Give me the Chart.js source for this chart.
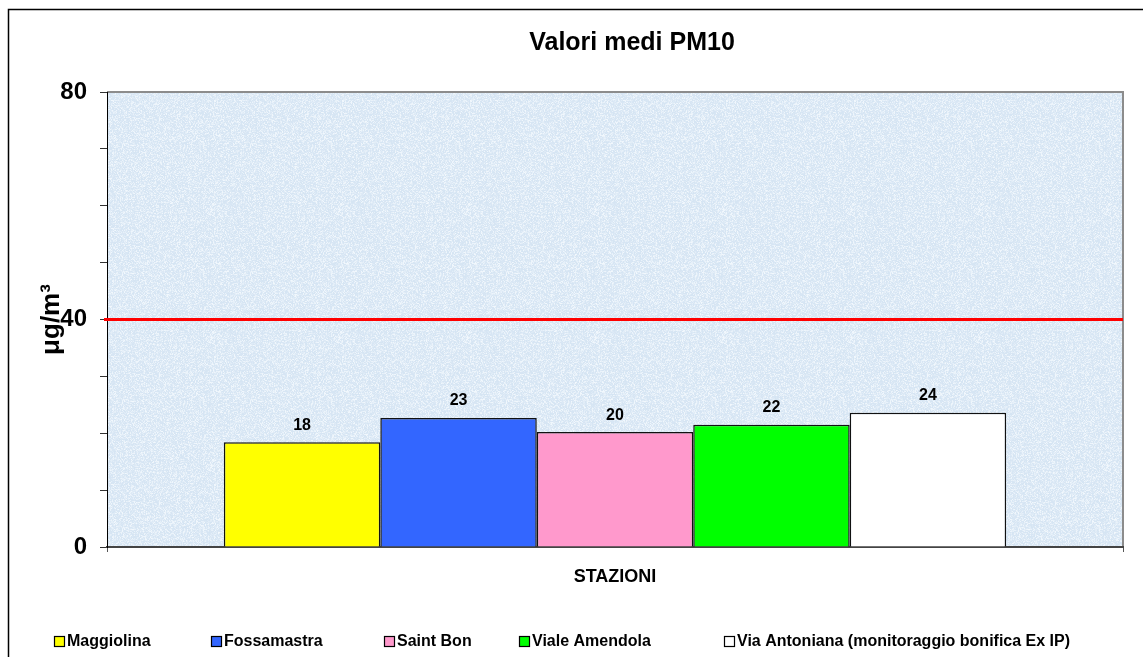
<!DOCTYPE html>
<html>
<head>
<meta charset="utf-8">
<script src="https://cdn.jsdelivr.net/npm/chart.js@4.4.0/dist/chart.umd.min.js"></script>
<style>
  html, body { margin: 0; padding: 0; background: #ffffff; }
  #wrap { position: relative; width: 1143px; height: 657px; overflow: hidden; }
  canvas { display: block; }
</style>
</head>
<body>
<div id="wrap"><canvas id="c" width="1143" height="657"></canvas></div>
<script>
// ---- data ----
const categories = ['STAZIONI'];
const stations = ['Maggiolina', 'Fossamastra', 'Saint Bon', 'Viale Amendola', 'Via Antoniana (monitoraggio bonifica Ex IP)'];
const pm10Values = [18.4, 22.7, 20.2, 21.5, 23.6];
const limitValue = [40];
const yTickLabels = ['0', '40', '80'];

// ---- styles ----
const barColors = ['#ffff00', '#3366ff', '#ff99cc', '#00ff00', '#ffffff'];
const FONT = '"Liberation Sans", Arial, Helvetica, sans-serif';

const datasets = stations.map((name, i) => ({
  label: name,
  data: [pm10Values[i]],
  backgroundColor: barColors[i],
  borderColor: '#111111',
  borderWidth: 1.5,
  borderSkipped: 'bottom',
  categoryPercentage: 0.77,
  barPercentage: 1.0
}));

// subtle deterministic speckle texture for the plot background
function makeTexture() {
  const size = 128;
  const c = document.createElement('canvas');
  c.width = size; c.height = size;
  const g = c.getContext('2d');
  const img = g.createImageData(size, size);
  for (let yy = 0; yy < size; yy++) {
    for (let xx = 0; xx < size; xx++) {
      const h = Math.sin(xx * 12.9898 + yy * 78.233) * 43758.5453;
      const n = h - Math.floor(h);
      const t = 0.35 + 0.65 * n * n;
      const k = (xx + yy * size) * 4;
      img.data[k]     = Math.round(198 + t * 44);
      img.data[k + 1] = Math.round(218 + t * 30);
      img.data[k + 2] = Math.round(238 + t * 15);
      img.data[k + 3] = 255;
    }
  }
  g.putImageData(img, 0, 0);
  return c;
}
const textureCanvas = makeTexture();

const decorPlugin = {
  id: 'decor',
  beforeDraw(chart) {
    const {ctx, chartArea: a} = chart;
    ctx.save();
    // outer frame
    ctx.strokeStyle = '#000000';
    ctx.lineWidth = 1.5;
    ctx.beginPath();
    ctx.moveTo(8.5, 700);
    ctx.lineTo(8.5, 9.5);
    ctx.lineTo(1200, 9.5);
    ctx.stroke();
    // plot background
    ctx.fillStyle = ctx.createPattern(textureCanvas, 'repeat');
    ctx.fillRect(a.left, a.top, a.right - a.left, a.bottom - a.top);
    // plot border top & right
    ctx.strokeStyle = '#8c8c8c';
    ctx.lineWidth = 2;
    ctx.beginPath();
    ctx.moveTo(a.left, a.top);
    ctx.lineTo(a.right, a.top);
    ctx.lineTo(a.right, a.bottom);
    ctx.stroke();
    ctx.restore();
  },
  afterDatasetsDraw(chart) {
    const {ctx, chartArea: a, scales} = chart;
    ctx.save();
    // limit line
    const yL = scales.y.getPixelForValue(limitValue[0]);
    ctx.strokeStyle = '#ff0000';
    ctx.lineWidth = 3;
    ctx.beginPath();
    ctx.moveTo(a.left - 3, yL);
    ctx.lineTo(a.right, yL);
    ctx.stroke();
    // value labels
    ctx.fillStyle = '#000000';
    ctx.font = 'bold 16px ' + FONT;
    ctx.textAlign = 'center';
    ctx.textBaseline = 'middle';
    chart.data.datasets.forEach((ds, i) => {
      const meta = chart.getDatasetMeta(i);
      meta.data.forEach((bar, j) => {
        ctx.fillText(String(Math.round(ds.data[j])), bar.x, bar.y - 17);
      });
    });
    ctx.restore();
  },
  afterDraw(chart) {
    const {ctx} = chart;
    const o = chart.options.plugins.decor;
    ctx.save();
    // title
    ctx.fillStyle = '#000000';
    ctx.font = 'bold 25px ' + FONT;
    ctx.textAlign = 'center';
    ctx.textBaseline = 'middle';
    ctx.fillText(o.title, o.titleX, o.titleY);
    // legend
    ctx.font = 'bold 16px ' + FONT;
    ctx.textAlign = 'left';
    chart.data.datasets.forEach((ds, i) => {
      const x = o.legendX[i];
      const y = o.legendY;
      ctx.fillStyle = ds.backgroundColor;
      ctx.fillRect(x, y - 5, 11, 11);
      ctx.strokeStyle = '#000000';
      ctx.lineWidth = 1.2;
      ctx.strokeRect(x + 0.5, y - 4.5, 10, 10);
      ctx.fillStyle = '#000000';
      ctx.fillText(ds.label, x + 13, y + 1);
    });
    ctx.restore();
  }
};

new Chart(document.getElementById('c'), {
  type: 'bar',
  data: { labels: categories, datasets: datasets },
  options: {
    responsive: false,
    animation: false,
    devicePixelRatio: 1,
    layout: { padding: { left: 0, top: 92, right: 20, bottom: 0 } },
    plugins: {
      legend: { display: false },
      title: { display: false },
      tooltip: { enabled: false },
      decor: {
        title: 'Valori medi PM10',
        titleX: 632,
        titleY: 43,
        legendX: [54, 211, 384, 519, 724],
        legendY: 641
      }
    },
    scales: {
      x: {
        ticks: { display: false },
        grid: { drawOnChartArea: false, drawTicks: true, tickLength: 5, color: '#555555' },
        border: { color: '#444444', width: 2 },
        title: {
          display: true,
          text: 'STAZIONI',
          color: '#000000',
          font: { family: FONT, size: 18, weight: 'bold' },
          padding: { top: 0, bottom: 69 }
        },
        afterFit(s) { s.height = 110; }
      },
      y: {
        min: 0,
        max: 80,
        ticks: {
          stepSize: 10,
          color: '#000000',
          padding: 13,
          font: { family: FONT, size: 24, weight: 'bold' },
          callback: (v) => yTickLabels.includes(String(v)) ? String(v) : ''
        },
        grid: { drawOnChartArea: false, drawTicks: true, tickLength: 7, color: '#333333' },
        border: { color: '#000000', width: 1 },
        title: {
          display: true,
          text: 'μg/m³',
          color: '#000000',
          font: { family: FONT, size: 26, weight: 'bold' },
          padding: { top: 36, bottom: 0 }
        },
        afterFit(s) { s.width = 107; }
      }
    }
  },
  plugins: [decorPlugin]
});
</script>
</body>
</html>
